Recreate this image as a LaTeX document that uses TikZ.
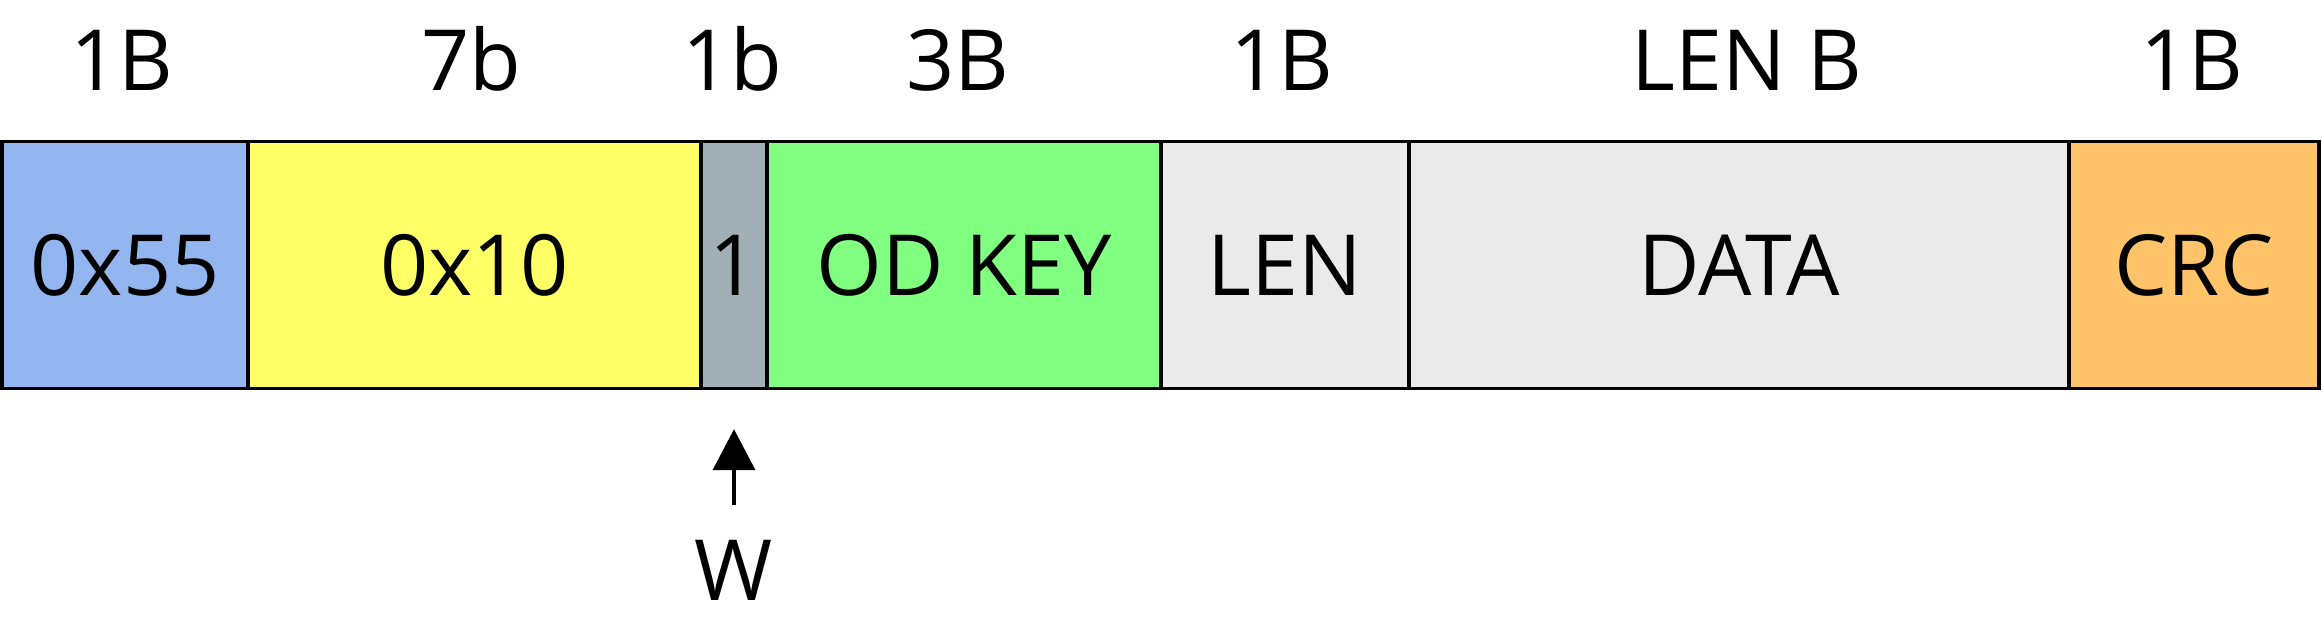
\documentclass[tikz,border=0pt]{standalone}
\usepackage{fontspec}
\setmainfont{Open Sans}
\usetikzlibrary{arrows.meta}
\definecolor{syncblue}{RGB}{147,181,240}
\definecolor{cmdyellow}{RGB}{255,255,102}
\definecolor{wgray}{RGB}{161,176,183}
\definecolor{keygreen}{RGB}{128,255,128}
\definecolor{lengray}{RGB}{234,234,234}
\definecolor{crcorange}{RGB}{255,195,106}

\begin{document}
\begin{tikzpicture}[x=0.01cm, y=-0.01cm, font=\fontsize{24}{29}\selectfont,
	field/.style={draw, line width=0.9pt, minimum height=2.47cm, inner sep=0pt}]
\useasboundingbox (0,0) rectangle (2322,624);
% frame fields
\foreach \name/\lft/\rgt/\col/\txt in {sync/2/248/syncblue/0x55, cmd/248/701/cmdyellow/0x10,
	wbit/701/767/wgray/1, key/767/1161/keygreen/OD KEY, len/1161/1409/lengray/LEN,
	data/1409/2069/lengray/DATA, crc/2069/2319/crcorange/CRC} {
	\node[field, fill=\col, minimum width={(\rgt-\lft)*0.01cm}] (\name) at ({(\lft+\rgt)/2}, 265) {\txt};
	};
% sizes
\foreach \x/\s [count=\i] in {122/1B, 471/7b, 732/1b, 958/3B, 1282/1B, 1747/LEN B, 2192/1B} {
	\node[anchor=base, inner sep=0pt] (size\i) at (\x, 90) {\s};
	};
\node[anchor=base, inner sep=0pt] (w) at (734, 600) {W};
\draw[line width=1.1pt, -{Triangle[width=0.42cm, length=0.41cm]}, shorten <=0.34cm, shorten >=0.39cm] (w.north) -- (wbit.south);
\end{tikzpicture}
\end{document}
